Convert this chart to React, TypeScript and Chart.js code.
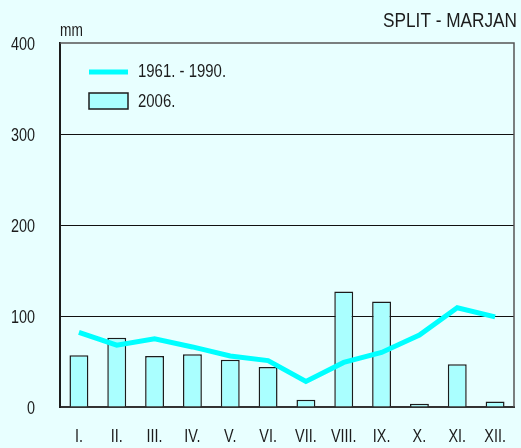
import React, { useEffect, useRef } from "react";
import { Chart, registerables } from "chart.js";

Chart.register(...registerables);

const months = ["I.", "II.", "III.", "IV.", "V.", "VI.", "VII.", "VIII.", "IX.", "X.", "XI.", "XII."];
const normal19611990 = [82, 68, 75, 66, 56, 51, 28, 49, 60, 79, 109, 99];
const precip2006 = [57, 76, 56, 58, 52, 44, 8, 127, 116, 3.5, 47, 6];
const yTicks = [0, 100, 200, 300, 400];
const legendLabels = ["1961. - 1990.", "2006."];
const titleText = "SPLIT - MARJAN";
const unitText = "mm";

const FONT = "'Liberation Sans', Arial, sans-serif";
const BG = "#E8FFFF";
const LINE = "#00FFFF";
const BAR = "#AAFFFF";
const INK = "#1c1c1c";
const SX = 0.8;

function narrowText(ctx: CanvasRenderingContext2D, text: string, x: number, y: number, align: CanvasTextAlign, size: number, sx: number) {
  ctx.save();
  ctx.translate(x, y);
  ctx.scale(sx, 1);
  ctx.font = `${size}px ${FONT}`;
  ctx.textAlign = align;
  ctx.textBaseline = "middle";
  ctx.fillStyle = INK;
  ctx.fillText(text, 0, 0);
  ctx.restore();
}

export default function App() {
  const ref = useRef<HTMLCanvasElement | null>(null);

  useEffect(() => {
    document.body.style.margin = "0";
    const canvas = ref.current;
    if (!canvas) return;

    const decor = {
      id: "decor",
      beforeDraw(chart: any) {
        const ctx = chart.ctx;
        ctx.save();
        ctx.fillStyle = BG;
        ctx.fillRect(0, 0, chart.width, chart.height);
        ctx.restore();
      },
      afterDraw(chart: any) {
        const ctx = chart.ctx as CanvasRenderingContext2D;
        const a = chart.chartArea;
        const xs = chart.scales.x;
        const ys = chart.scales.y;
        ctx.save();
        ctx.strokeStyle = "#555555";
        ctx.lineWidth = 1.5;
        ctx.beginPath();
        ctx.moveTo(a.left, a.top);
        ctx.lineTo(a.right, a.top);
        ctx.lineTo(a.right, a.bottom);
        ctx.stroke();
        ctx.restore();

        months.forEach((m, i) => {
          narrowText(ctx, m, xs.getPixelForTick(i), a.bottom + 30, "center", 18, SX);
        });
        yTicks.forEach((v) => {
          narrowText(ctx, String(v), a.left - 25, ys.getPixelForValue(v) + 2, "right", 18, SX);
        });

        narrowText(ctx, titleText, a.right + 3, 21, "right", 21, 0.82);
        narrowText(ctx, unitText, a.left, 31, "left", 18, 0.76);

        ctx.save();
        const lx = a.left + 29;
        ctx.strokeStyle = LINE;
        ctx.lineWidth = 5;
        ctx.beginPath();
        ctx.moveTo(lx, a.top + 29);
        ctx.lineTo(lx + 39, a.top + 29);
        ctx.stroke();
        ctx.fillStyle = BAR;
        ctx.fillRect(lx, a.top + 50, 39, 16);
        ctx.strokeStyle = INK;
        ctx.lineWidth = 1.5;
        ctx.strokeRect(lx, a.top + 50, 39, 16);
        ctx.restore();
        narrowText(ctx, legendLabels[0], lx + 49, a.top + 29, "left", 18, 0.83);
        narrowText(ctx, legendLabels[1], lx + 49, a.top + 59, "left", 18, 0.83);
      },
    };

    const chart = new Chart(canvas, {
      type: "bar",
      data: {
        labels: months,
        datasets: [
          {
            type: "line",
            label: legendLabels[0],
            data: normal19611990,
            borderColor: LINE,
            backgroundColor: LINE,
            borderWidth: 5,
            pointRadius: 0,
            tension: 0,
            order: 0,
          } as any,
          {
            type: "bar",
            label: legendLabels[1],
            data: precip2006,
            backgroundColor: BAR,
            borderColor: INK,
            borderWidth: 1.5,
            barPercentage: 0.5,
            categoryPercentage: 1,
            order: 1,
          },
        ],
      },
      plugins: [decor],
      options: {
        responsive: false,
        animation: false,
        layout: { padding: { top: 43, right: 7, left: 0, bottom: 0 } },
        plugins: { legend: { display: false }, tooltip: { enabled: false }, title: { display: false } },
        scales: {
          x: {
            grid: { display: false, drawTicks: false },
            border: { display: true, color: "#333333", width: 2 },
            ticks: { display: false },
            afterFit: (s: any) => { s.height = 41; s.paddingLeft = 0; s.paddingRight = 0; },
          },
          y: {
            min: 0,
            max: 400,
            afterBuildTicks: (s: any) => { s.ticks = yTicks.map((v) => ({ value: v })); },
            grid: {
              drawTicks: false,
              color: (c: any) => (c.tick && (c.tick.value === 0 || c.tick.value === 400) ? "rgba(0,0,0,0)" : "#111111"),
              lineWidth: 1,
            },
            border: { display: true, color: INK, width: 2 },
            ticks: { display: false },
            afterFit: (s: any) => { s.width = 60; s.paddingTop = 0; s.paddingBottom = 0; },
          },
        },
      },
    });

    return () => chart.destroy();
  }, []);

  return <canvas ref={ref} width={521} height={448} style={{ display: "block", width: 521, height: 448 }} />;
}
